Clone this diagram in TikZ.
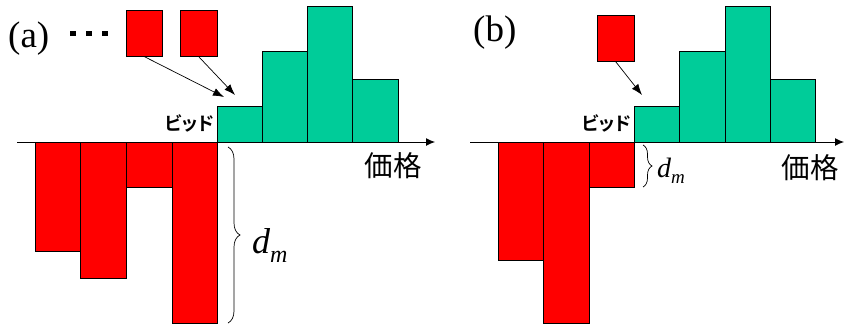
\documentclass[tikz,border=0pt]{standalone}
\usepackage{fontspec}
\setmainfont{Liberation Serif}[BoldFont={* Bold},ItalicFont={* Italic}]
\newfontfamily\tnr{Liberation Serif}[ItalicFont={Liberation Serif Italic}]
\newfontfamily\jp{Noto Sans CJK JP}[RawFeature=+palt]
\newfontfamily\jpb{Noto Sans CJK JP Bold}[RawFeature=+palt]
\usetikzlibrary{arrows.meta,decorations.pathreplacing}
\definecolor{barred}{RGB}{255,0,0}
\definecolor{bargreen}{RGB}{0,204,153}
\tikzset{
  redbar/.style={draw=black,fill=barred,line width=0.9pt},
  greenbar/.style={draw=black,fill=bargreen,line width=0.9pt},
  topsq/.style={draw=black,fill=barred,line width=0.9pt,inner sep=0pt,minimum height=46pt},
  axisline/.style={line width=0.9pt,-{Latex[length=9pt,width=8pt]}},
  bidarrow/.style={line width=0.7pt,-{Latex[length=11pt,width=8pt]}},
  bracestyle/.style={decorate,line width=0.7pt},
  bidlabel/.style={font=\jpb\fontsize{18.5}{18.5}\selectfont,inner sep=0pt,anchor=east},
  pricelabel/.style={font=\jp\fontsize{28.5}{28.5}\selectfont,inner sep=0pt},
  panellabel/.style={font=\tnr\fontsize{37}{37}\selectfont,inner sep=0pt,anchor=base west},
}
\begin{document}
\begin{tikzpicture}[x=1pt,y=-1pt]
\useasboundingbox (0,0) rectangle (844,324);
% ---------------- panel (a) ----------------
\node[panellabel] (la) at (8,47) {(a)};
\fill (70,31) rectangle (76,36);
\fill (86,31) rectangle (92,36);
\fill (102,31) rectangle (108,36);
% red bars (below axis)
\draw[redbar] (35,142) rectangle (80,251);
\draw[redbar] (80,142) rectangle (126,278);
\draw[redbar] (126,142) rectangle (172,187);
\draw[redbar] (172,142) rectangle (217,323.5);
% green bars (above axis)
\draw[greenbar] (217,106) rectangle (262.3,142);
\draw[greenbar] (262.3,51) rectangle (307.3,142);
\draw[greenbar] (307.3,6) rectangle (352.7,142);
\draw[greenbar] (352.7,79) rectangle (398.3,142);
% axis
\coordinate (axA0) at (17,142);
\coordinate (axA1) at (435,142);
\draw[axisline] (axA0) -- (axA1);
% top squares and arrows
\node[topsq,minimum width=36pt] (sqA1) at (144,33) {};
\node[topsq,minimum width=37pt] (sqA2) at (198.5,33) {};
\coordinate (tgA1) at (224,97);
\coordinate (tgA2) at (235,95);
\draw[bidarrow] (sqA1.south) -- (tgA1);
\draw[bidarrow] (sqA2.south) -- (tgA2);
% labels
\node[bidlabel] (bidA) at (214,123) {ビッド};
\node[pricelabel] (priceA) at (393,166) {価格};
\coordinate (brA0) at (228,147);
\coordinate (brA1) at (228,323);
\draw[bracestyle,decoration={brace,amplitude=12pt}] (brA0) -- (brA1);
\node[inner sep=0pt,anchor=base west] (dmA) at (252,253)
  {\tnr\fontsize{36}{36}\selectfont\itshape d\raisebox{-9pt}{\fontsize{24}{24}\selectfont m}};
% ---------------- panel (b) ----------------
\node[panellabel] (lb) at (473,41) {(b)};
\draw[redbar] (498,142) rectangle (543,260);
\draw[redbar] (543,142) rectangle (589,323.5);
\draw[redbar] (589,142) rectangle (634,187);
\draw[greenbar] (634,106) rectangle (679.5,142);
\draw[greenbar] (679.5,51) rectangle (725,142);
\draw[greenbar] (725,6) rectangle (770,142);
\draw[greenbar] (770,79) rectangle (815.3,142);
\coordinate (axB0) at (470,142);
\coordinate (axB1) at (844,142);
\draw[axisline] (axB0) -- (axB1);
\node[topsq,minimum width=37pt] (sqB1) at (615.5,38) {};
\coordinate (tgB1) at (642,95);
\draw[bidarrow] (sqB1.south) -- (tgB1);
\node[bidlabel] (bidB) at (631,123) {ビッド};
\node[pricelabel] (priceB) at (810,168) {価格};
\coordinate (brB0) at (643,145);
\coordinate (brB1) at (643,187);
\draw[bracestyle,decoration={brace,amplitude=9pt}] (brB0) -- (brB1);
\node[inner sep=0pt,anchor=base west] (dmB) at (657,177)
  {\tnr\fontsize{28}{28}\selectfont\itshape d\raisebox{-6pt}{\fontsize{19}{19}\selectfont m}};
\end{tikzpicture}
\end{document}
